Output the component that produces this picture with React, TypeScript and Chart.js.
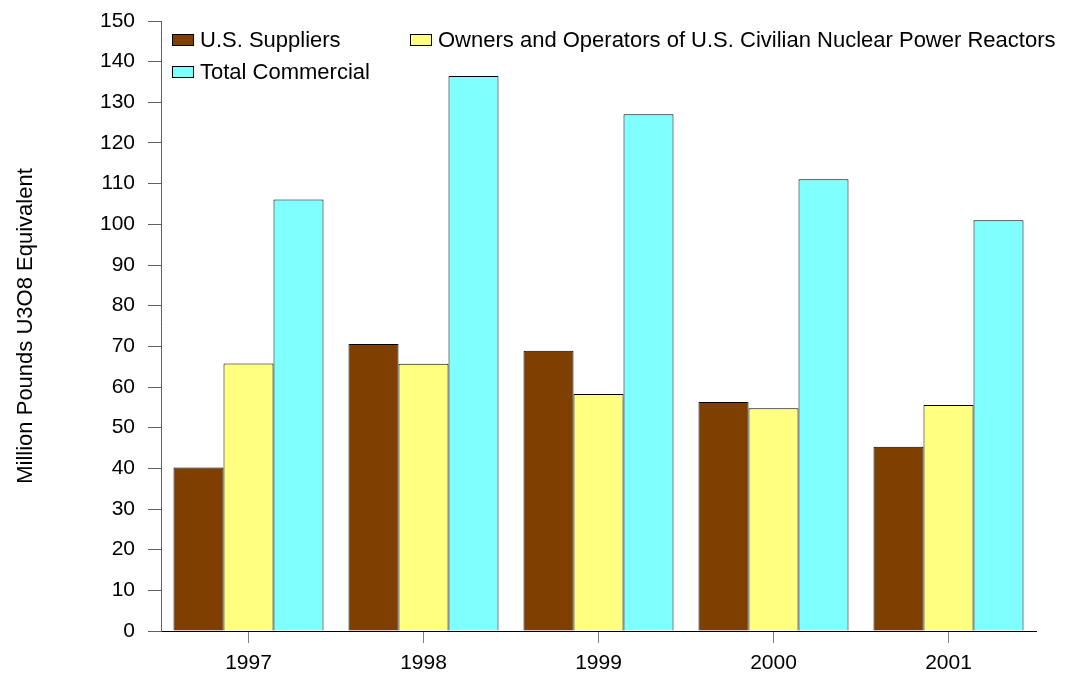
import React, { useEffect, useRef } from "react";
import { Chart, registerables } from "chart.js";

Chart.register(...registerables);

const categories = ["1997", "1998", "1999", "2000", "2001"];
const usSuppliers = [40.2, 70.6, 68.9, 56.3, 45.3];
const ownersOperators = [65.8, 65.7, 58.3, 54.8, 55.6];
const totalCommercial = [106.1, 136.5, 127.1, 111.1, 101.0];
const seriesLabels = [
  "U.S. Suppliers",
  "Owners and Operators of U.S. Civilian Nuclear Power Reactors",
  "Total Commercial",
];
const yAxisTitle = "Million Pounds U3O8 Equivalent";

const FONT = "'Liberation Sans', Arial, sans-serif";

const legendPlugin = {
  id: "insideLegend",
  afterDraw(chart: any) {
    const ctx = chart.ctx;
    const area = chart.chartArea;
    const items = [
      { i: 0, x: area.left + 11, y: area.top + 19 },
      { i: 1, x: area.left + 249, y: area.top + 19 },
      { i: 2, x: area.left + 11, y: area.top + 51 },
    ];
    ctx.save();
    ctx.font = `22px ${FONT}`;
    ctx.textBaseline = "middle";
    ctx.textAlign = "left";
    for (const it of items) {
      const ds = chart.data.datasets[it.i];
      ctx.fillStyle = ds.backgroundColor;
      ctx.fillRect(it.x, it.y - 6, 22, 12);
      ctx.strokeStyle = "#000";
      ctx.lineWidth = 1;
      ctx.strokeRect(it.x + 0.5, it.y - 5.5, 21, 11);
      ctx.fillStyle = "#000";
      ctx.fillText(ds.label, it.x + 28, it.y + 1);
    }
    ctx.restore();
  },
};

export default function App() {
  const canvasRef = useRef<HTMLCanvasElement>(null);

  useEffect(() => {
    const canvas = canvasRef.current;
    if (!canvas) return;
    const chart = new Chart(canvas, {
      type: "bar",
      data: {
        labels: categories,
        datasets: [
          {
            label: seriesLabels[0],
            data: usSuppliers,
            backgroundColor: "#7F3F00",
            borderColor: "#000",
            borderWidth: 1,
          },
          {
            label: seriesLabels[1],
            data: ownersOperators,
            backgroundColor: "#FFFF80",
            borderColor: "#000",
            borderWidth: 1,
          },
          {
            label: seriesLabels[2],
            data: totalCommercial,
            backgroundColor: "#80FFFF",
            borderColor: "#000",
            borderWidth: 1,
          },
        ],
      },
      options: {
        responsive: false,
        animation: false,
        maintainAspectRatio: false,
        layout: { padding: { top: 21, right: 33, left: 0, bottom: 0 } },
        plugins: {
          legend: { display: false },
          tooltip: { enabled: false },
          title: { display: false },
        },
        datasets: {
          bar: { categoryPercentage: 150 / 175, barPercentage: 1 },
        },
        scales: {
          x: {
            offset: true,
            grid: {
              offset: false,
              drawOnChartArea: false,
              drawTicks: true,
              tickLength: 12,
              tickColor: "#808080",
            },
            border: { display: true, color: "#000", width: 1 },
            ticks: {
              color: "#000",
              font: { family: FONT, size: 21 },
              padding: 8,
            },
            afterFit(scale: any) {
              scale.height = 42;
              scale.paddingLeft = 0;
              scale.paddingRight = 0;
            },
          },
          y: {
            min: 0,
            max: 150,
            ticks: {
              stepSize: 10,
              color: "#000",
              font: { family: FONT, size: 21 },
              padding: 13,
            },
            grid: {
              drawOnChartArea: false,
              drawTicks: true,
              tickLength: 13,
              tickColor: "#606060",
            },
            border: { display: true, color: "#606060", width: 1 },
            title: {
              display: true,
              text: yAxisTitle,
              color: "#000",
              font: { family: FONT, size: 22 },
              padding: { top: 13, bottom: 0 },
            },
            afterFit(scale: any) {
              scale.width = 161;
              scale.paddingTop = 0;
              scale.paddingBottom = 0;
            },
          },
        },
      },
      plugins: [legendPlugin],
    });
    return () => chart.destroy();
  }, []);

  return (
    <div
      style={{
        position: "fixed",
        left: 0,
        top: 0,
        width: 1069,
        height: 673,
        background: "#fff",
      }}
    >
      <canvas ref={canvasRef} width={1069} height={673} style={{ display: "block" }} />
    </div>
  );
}
